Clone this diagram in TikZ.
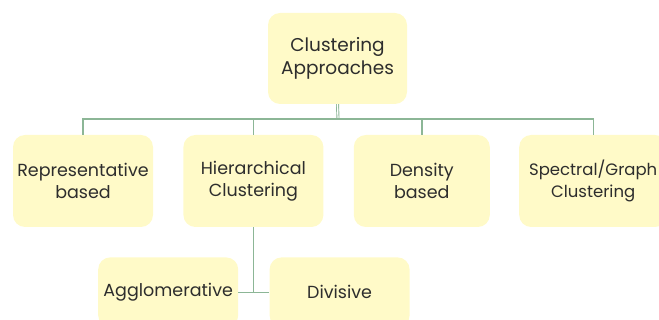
\documentclass[tikz,border=0pt]{standalone}
\usepackage{fontspec}
\setmainfont{Poppins}
\usetikzlibrary{positioning}
\definecolor{boxfill}{RGB}{255,250,200}
\definecolor{linkgreen}{RGB}{140,182,150}
\definecolor{textgray}{RGB}{45,45,45}
\tikzset{
  cbox/.style={rounded corners=12pt, fill=boxfill, draw=none, text=textgray, align=center,
               minimum width=140pt, minimum height=92pt, inner sep=1pt,
               font=\fontsize{17.5}{22}\selectfont},
  lowbox/.style={cbox, minimum height=70pt},
  link/.style={draw=linkgreen, line width=1.4pt},
  rootlink/.style={draw=linkgreen, line width=0.9pt, double=white, double distance=1.2pt},
}

\begin{document}
\begin{tikzpicture}[x=1pt,y=-1pt,node distance=30pt]
    \clip (0,0) rectangle (659,320);
    \node[cbox, minimum width=139pt, minimum height=91pt, font=\fontsize{18.5}{23}\selectfont] (root) at (337.5,58.5) {Clustering\\Approaches};
    \node[cbox] (rep) at (83,181) {Representative\\based};
    \node[cbox, right=of rep] (hier) {Hierarchical\\Clustering};
    \node[cbox, minimum width=136pt, right=of hier] (dens) {Density\\based};
    \node[cbox, minimum width=148pt, right=29pt of dens, font=\fontsize{16.5}{22}\selectfont] (spec) {Spectral/Graph\\Clustering};
    \node[lowbox, anchor=north east] (agg) at ([xshift=-15pt,yshift=-30pt]hier.south) {Agglomerative};
    \node[lowbox, right=31pt of agg] (div) {Divisive};
    \coordinate (bus) at (338,119);
    \draw[rootlink] (root.south) -- (bus);
    \draw[link] (rep.north) -- (rep.north |- bus) -- (spec.north |- bus) -- (spec.north);
    \draw[link] (hier.north) -- (hier.north |- bus);
    \draw[link] (dens.north) -- (dens.north |- bus);
    \draw[link] (hier.south) -- (hier.south |- agg.east);
    \draw[link] (agg.east) -- (div.west);
  \end{tikzpicture}
\end{document}
